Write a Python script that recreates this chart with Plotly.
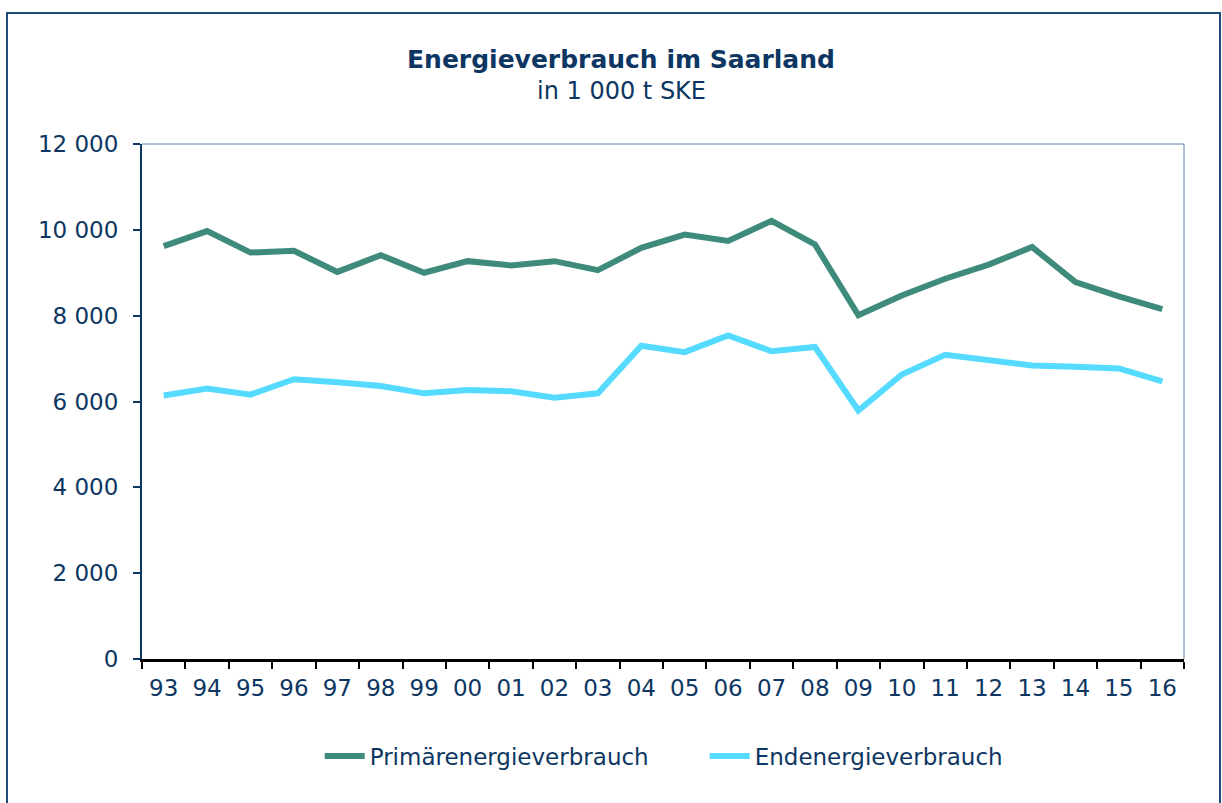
import plotly.graph_objects as go

years = ["93", "94", "95", "96", "97", "98", "99", "00", "01", "02", "03", "04",
         "05", "06", "07", "08", "09", "10", "11", "12", "13", "14", "15", "16"]
primaer = [9620, 9970, 9470, 9510, 9020, 9410, 9000, 9270, 9170, 9270, 9060, 9580,
           9890, 9740, 10210, 9660, 8010, 8470, 8860, 9190, 9600, 8780, 8450, 8150]
ende = [6140, 6300, 6160, 6520, 6450, 6360, 6190, 6270, 6240, 6090, 6190, 7300,
        7150, 7540, 7170, 7270, 5790, 6630, 7090, 6960, 6840, 6810, 6770, 6470]
ytickvals = [0, 2000, 4000, 6000, 8000, 10000, 12000]
yticktext = ["0", "2 000", "4 000", "6 000", "8 000", "10 000", "12 000"]

NAVY = "#0D3662"
FONT = "DejaVu Sans"

fig = go.Figure()
fig.add_trace(go.Scatter(x=years, y=primaer, mode="lines", name="Primärenergieverbrauch",
                         line=dict(color="#3E8B7C", width=6)))
fig.add_trace(go.Scatter(x=years, y=ende, mode="lines", name="Endenergieverbrauch",
                         line=dict(color="#55DBFF", width=6)))

L, R, T, B = 142, 1184, 144, 659
W, H = 1222, 803
pw, ph = R - L, B - T

def px(x):
    return (x - L) / pw

def py(y):
    return (B - y) / ph

fig.update_layout(
    width=W, height=H,
    margin=dict(l=L, r=W - R, t=T, b=H - B),
    paper_bgcolor="white", plot_bgcolor="white",
    font=dict(family=FONT, color=NAVY, size=23),
    showlegend=True,
    legend=dict(orientation="h", x=0.54, xanchor="center", y=py(756), yanchor="middle",
                font=dict(size=23, color=NAVY), itemwidth=40, entrywidth=330,
                bgcolor="rgba(0,0,0,0)"),
    xaxis=dict(type="category", range=[-0.5, len(years) - 0.5], showgrid=False,
               showline=True, linecolor="black", linewidth=3,
               ticks="outside", tickson="boundaries", ticklen=7, tickwidth=2, tickcolor="black",
               tickfont=dict(size=23, color=NAVY), mirror=False, zeroline=False,
               ticklabelstandoff=6),
    yaxis=dict(range=[0, 12000], tickvals=ytickvals, ticktext=yticktext, showgrid=False,
               showline=True, linecolor=NAVY, linewidth=2, ticks="outside", ticklen=7,
               tickwidth=1.5, tickcolor=NAVY, tickfont=dict(size=23, color=NAVY),
               zeroline=False, ticklabelstandoff=10),
    annotations=[
        dict(text="<b>Energieverbrauch im Saarland</b>", x=px(621), y=py(59), xref="paper",
             yref="paper", showarrow=False, xanchor="center", yanchor="middle",
             font=dict(size=25, color=NAVY, family=FONT)),
        dict(text="in 1 000 t SKE", x=px(621), y=py(91), xref="paper", yref="paper",
             showarrow=False, xanchor="center", yanchor="middle",
             font=dict(size=24, color=NAVY, family=FONT)),
    ],
    shapes=[
        dict(type="line", xref="paper", yref="paper", x0=0, x1=1, y0=1, y1=1,
             line=dict(color="#5C7FA3", width=1)),
        dict(type="line", xref="paper", yref="paper", x0=1, x1=1, y0=0, y1=1,
             line=dict(color="#5C7FA3", width=1)),
        dict(type="rect", xref="paper", yref="paper", x0=px(7), x1=px(1220), y0=py(820), y1=py(13),
             line=dict(color="#1F4A78", width=2), layer="below"),
    ],
)

fig.write_html("out.html", config={"displayModeBar": False},
               post_script="document.body.style.margin='0';")
